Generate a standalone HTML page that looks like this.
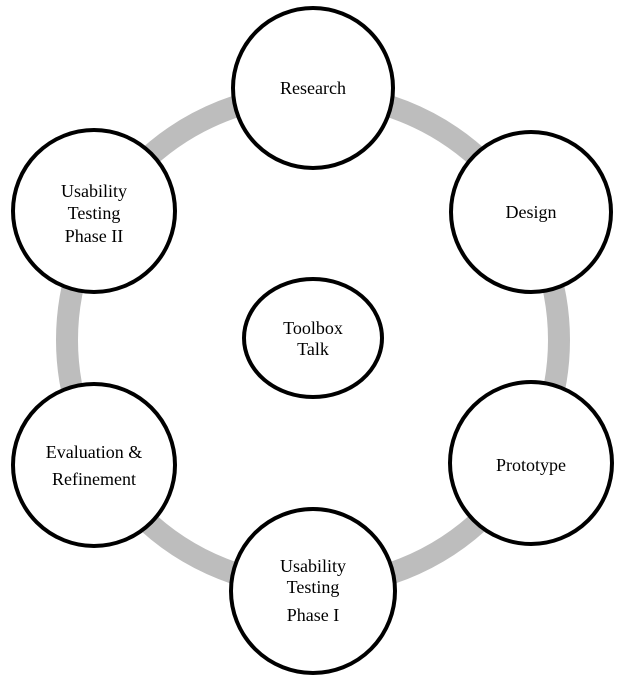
<!DOCTYPE html>
<html><head><style>
body{margin:0;background:#fff;}
svg text{font-family:"Liberation Serif",serif;font-size:18px;fill:#000;text-anchor:middle;}
</style></head><body>
<svg width="624" height="677" viewBox="0 0 624 677" xmlns="http://www.w3.org/2000/svg">
<rect width="624" height="677" fill="#fff"/>
<circle cx="313" cy="340" r="246" fill="none" stroke="#bdbdbd" stroke-width="22"/>
<g fill="#fff" stroke="#000" stroke-width="4">
<circle cx="313" cy="88" r="80"/>
<circle cx="531" cy="212" r="80"/>
<circle cx="531" cy="463" r="81"/>
<circle cx="313" cy="591" r="82"/>
<circle cx="94" cy="465" r="81"/>
<circle cx="94" cy="211" r="81"/>
<ellipse cx="313" cy="338" rx="69" ry="59"/>
</g>
<text x="313" y="94">Research</text>
<text x="531" y="218">Design</text>
<text x="531" y="471">Prototype</text>
<text x="313" y="572">Usability</text>
<text x="313" y="593">Testing</text>
<text x="313" y="621">Phase I</text>
<text x="94" y="458">Evaluation &amp;</text>
<text x="94" y="485">Refinement</text>
<text x="94" y="197">Usability</text>
<text x="94" y="219">Testing</text>
<text x="94" y="242">Phase II</text>
<text x="313" y="334">Toolbox</text>
<text x="313" y="355">Talk</text>
</svg>
</body></html>
